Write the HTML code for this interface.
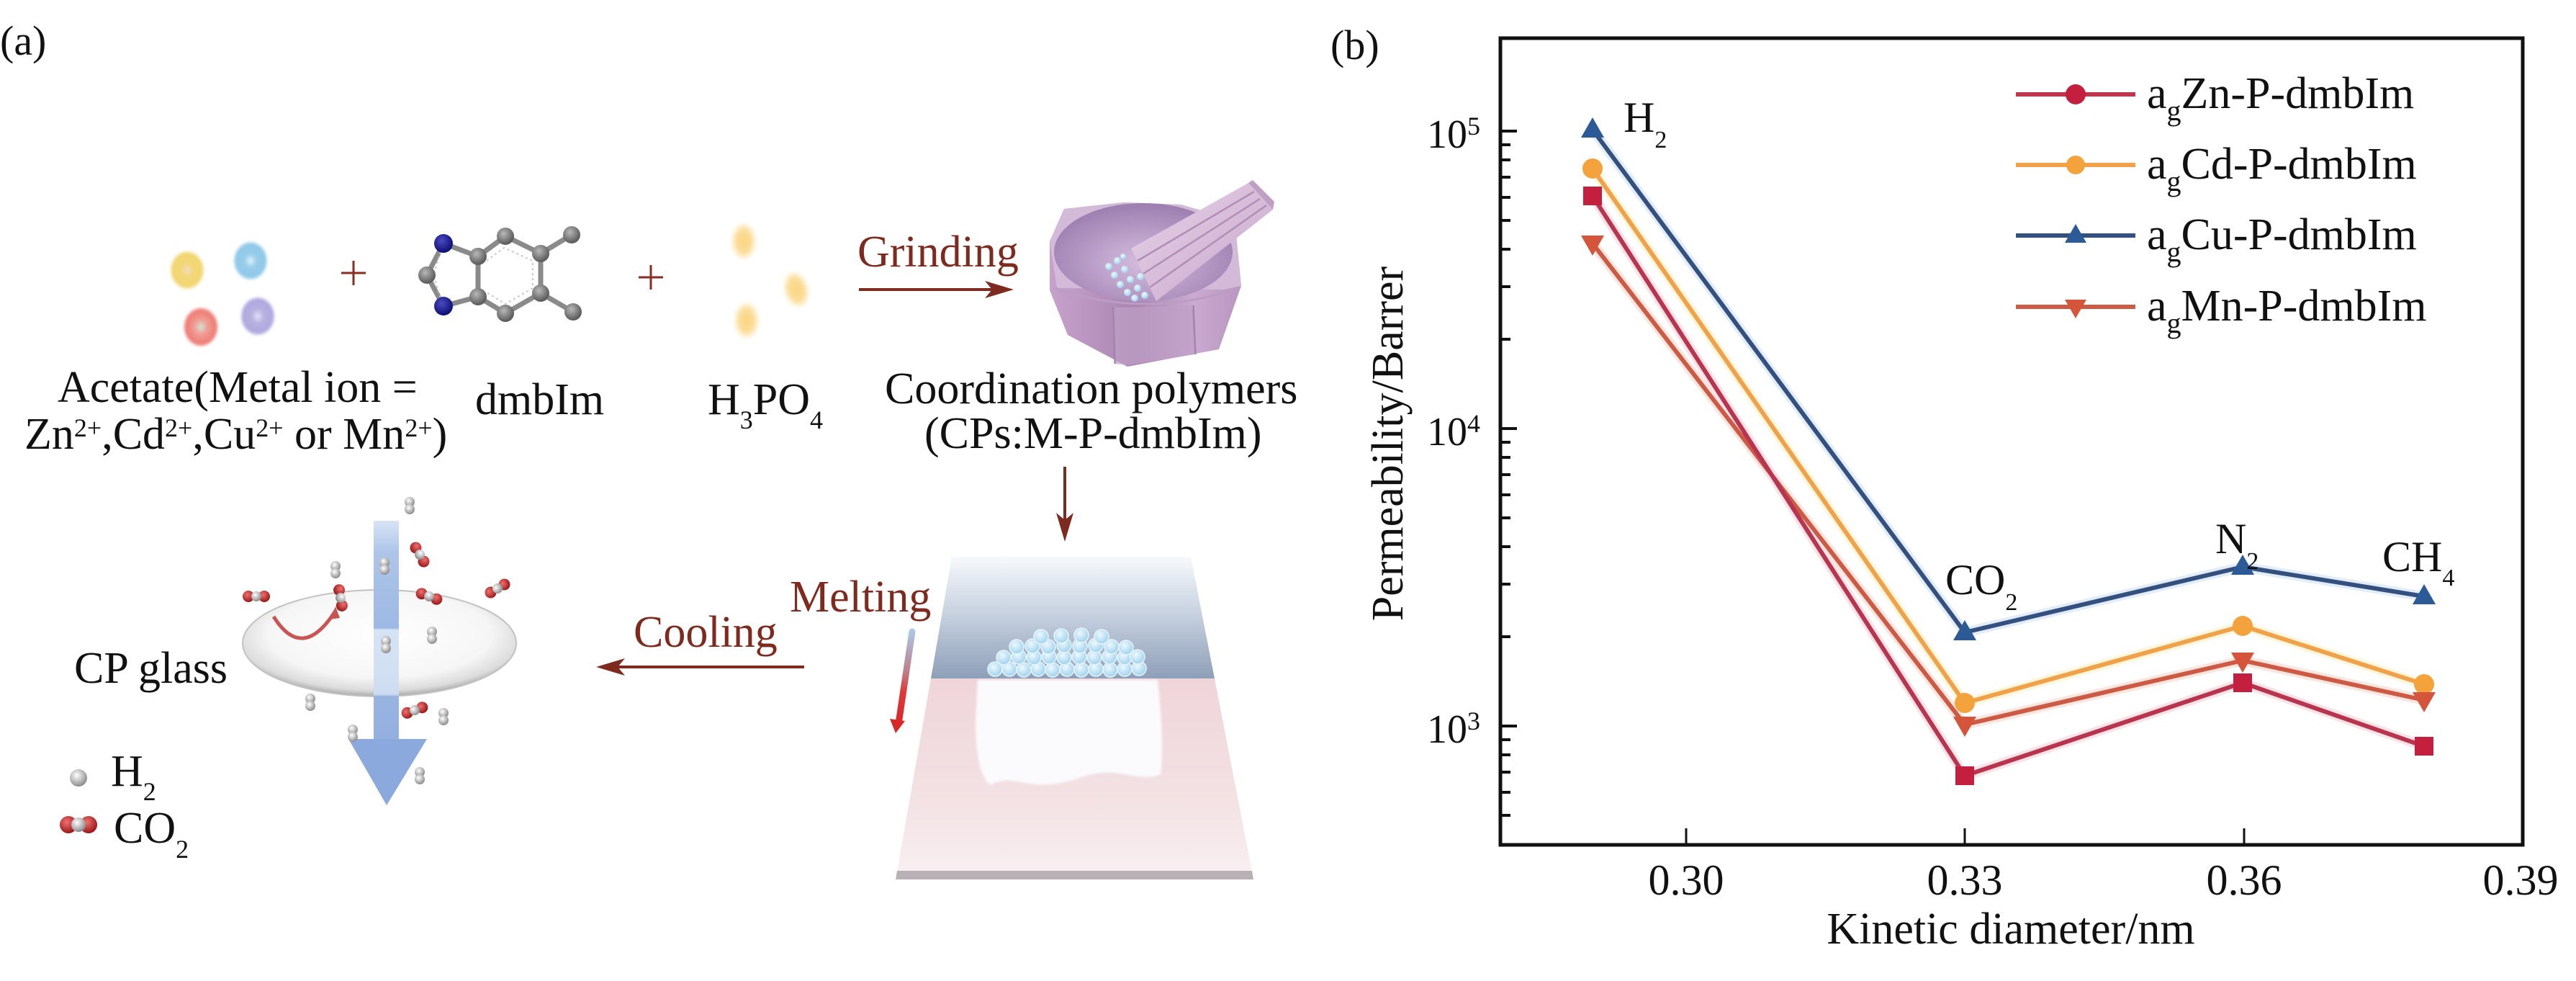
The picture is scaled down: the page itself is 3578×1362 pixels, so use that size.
<!DOCTYPE html>
<html>
<head>
<meta charset="utf-8">
<style>
html,body{margin:0;padding:0;background:#fff;}
svg{display:block;}
text{font-family:"Liberation Serif","Times New Roman",serif;}
</style>
</head>
<body>
<svg width="3578" height="1362" viewBox="0 0 3578 1362" xmlns="http://www.w3.org/2000/svg">
<defs>
  <radialGradient id="gYel" cx="0.5" cy="0.5" r="0.5">
    <stop offset="0" stop-color="#f8d8c8"/><stop offset="0.35" stop-color="#f2d878"/><stop offset="0.85" stop-color="#f2d670"/><stop offset="1" stop-color="#f7e7b0" stop-opacity="0.4"/>
  </radialGradient>
  <radialGradient id="gBlue" cx="0.5" cy="0.5" r="0.5">
    <stop offset="0" stop-color="#e0f2fa"/><stop offset="0.35" stop-color="#98cdea"/><stop offset="0.85" stop-color="#8fc8e8"/><stop offset="1" stop-color="#bde0f2" stop-opacity="0.4"/>
  </radialGradient>
  <radialGradient id="gRed" cx="0.5" cy="0.5" r="0.5">
    <stop offset="0" stop-color="#c8ead8"/><stop offset="0.35" stop-color="#f2a098"/><stop offset="0.85" stop-color="#ee7c74"/><stop offset="1" stop-color="#f07f78" stop-opacity="0.4"/>
  </radialGradient>
  <radialGradient id="gLav" cx="0.5" cy="0.5" r="0.5">
    <stop offset="0" stop-color="#e4e4f6"/><stop offset="0.35" stop-color="#b8b2e2"/><stop offset="0.85" stop-color="#aea8de"/><stop offset="1" stop-color="#c9c2ea" stop-opacity="0.4"/>
  </radialGradient>
  <radialGradient id="gAtom" cx="0.4" cy="0.35" r="0.6">
    <stop offset="0" stop-color="#b8b8b8"/><stop offset="1" stop-color="#5e5e5e"/>
  </radialGradient>
  <radialGradient id="gN" cx="0.4" cy="0.35" r="0.6">
    <stop offset="0" stop-color="#4a4ac0"/><stop offset="1" stop-color="#12127a"/>
  </radialGradient>
  <radialGradient id="gDrop" cx="0.5" cy="0.5" r="0.5">
    <stop offset="0" stop-color="#fcd47e"/><stop offset="0.7" stop-color="#fbdf9e"/><stop offset="1" stop-color="#fff0cc" stop-opacity="0.4"/>
  </radialGradient>
  <radialGradient id="gBowl" cx="0.5" cy="0.6" r="0.6">
    <stop offset="0" stop-color="#d6bddf"/><stop offset="1" stop-color="#9c7eaf"/>
  </radialGradient>
  <linearGradient id="gMortar" x1="0" y1="0" x2="1" y2="0">
    <stop offset="0" stop-color="#c6a2cb"/><stop offset="0.45" stop-color="#a985b1"/><stop offset="0.75" stop-color="#caaad0"/><stop offset="1" stop-color="#b996c0"/>
  </linearGradient>
  <linearGradient id="gPestle" x1="0" y1="0" x2="1" y2="1">
    <stop offset="0" stop-color="#e8d4e8"/><stop offset="1" stop-color="#c7a5cb"/>
  </linearGradient>
  <linearGradient id="gPlateBlue" x1="0" y1="0" x2="0" y2="1">
    <stop offset="0" stop-color="#f7f9fc"/><stop offset="0.45" stop-color="#c9d3e1"/><stop offset="1" stop-color="#8e9fb8"/>
  </linearGradient>
  <linearGradient id="gPlatePink" x1="0" y1="0" x2="0" y2="1">
    <stop offset="0" stop-color="#efd5d9"/><stop offset="0.6" stop-color="#f3e1e4"/><stop offset="1" stop-color="#f8eef0"/>
  </linearGradient>
  <linearGradient id="gTherm" x1="0" y1="0" x2="0" y2="1">
    <stop offset="0" stop-color="#a9c8e6"/><stop offset="0.45" stop-color="#c07a86"/><stop offset="0.65" stop-color="#e03a3a"/><stop offset="1" stop-color="#d82828"/>
  </linearGradient>
  <radialGradient id="gGlass" cx="0.5" cy="0.42" r="0.58">
    <stop offset="0" stop-color="#ffffff"/><stop offset="0.7" stop-color="#f6f6f6"/><stop offset="0.9" stop-color="#dcdcdc"/><stop offset="1" stop-color="#a9a9a9"/>
  </radialGradient>
  <linearGradient id="gShaft" x1="0" y1="700" x2="0" y2="1030" gradientUnits="userSpaceOnUse">
    <stop offset="0" stop-color="#eef3fb"/>
    <stop offset="0.2" stop-color="#aac2e8"/>
    <stop offset="0.52" stop-color="#98b5e2"/>
    <stop offset="0.53" stop-color="#d4e2f5"/>
    <stop offset="0.8" stop-color="#cddcf2"/>
    <stop offset="0.81" stop-color="#93b0df"/>
    <stop offset="1" stop-color="#8eabdd"/>
  </linearGradient>
  <radialGradient id="gH" cx="0.4" cy="0.35" r="0.65">
    <stop offset="0" stop-color="#ffffff"/><stop offset="1" stop-color="#8c8c8c"/>
  </radialGradient>
  <radialGradient id="gO" cx="0.4" cy="0.35" r="0.65">
    <stop offset="0" stop-color="#f07070"/><stop offset="1" stop-color="#9a1818"/>
  </radialGradient>
  <radialGradient id="gP" cx="0.4" cy="0.35" r="0.65">
    <stop offset="0" stop-color="#eef9ff"/><stop offset="1" stop-color="#9fd3ee"/>
  </radialGradient>
  <filter id="soft" x="-30%" y="-30%" width="160%" height="160%"><feGaussianBlur stdDeviation="1.5"/></filter>
  <filter id="soft4" x="-30%" y="-30%" width="160%" height="160%"><feGaussianBlur stdDeviation="3"/></filter>
  <g id="h2m"><ellipse cx="0" cy="-5" rx="7" ry="7" fill="url(#gH)"/><ellipse cx="0" cy="5" rx="7" ry="7" fill="url(#gH)"/></g>
  <g id="co2m"><circle cx="-11" cy="0" r="8" fill="url(#gO)"/><circle cx="11" cy="0" r="8" fill="url(#gO)"/><circle cx="0" cy="0" r="7" fill="url(#gH)"/></g>
</defs>

<!-- ============ PANEL (a) ============ -->
<text x="0" y="76" font-size="58" fill="#111">(a)</text>

<!-- metal ions -->
<g filter="url(#soft)">
  <ellipse cx="260" cy="375" rx="24" ry="27" fill="url(#gYel)"/>
  <ellipse cx="348" cy="362" rx="24" ry="27" fill="url(#gBlue)"/>
  <ellipse cx="279" cy="454" rx="24" ry="27" fill="url(#gRed)"/>
  <ellipse cx="358" cy="439" rx="24" ry="27" fill="url(#gLav)"/>
</g>

<!-- plus signs -->
<g stroke="#8a2c20" stroke-width="3">
  <line x1="474" y1="379" x2="508" y2="379"/><line x1="491" y1="362" x2="491" y2="396"/>
  <line x1="887" y1="385" x2="921" y2="385"/><line x1="904" y1="368" x2="904" y2="402"/>
</g>

<!-- dmbIm molecule -->
<g stroke="#8a8a8a" stroke-width="7" stroke-linecap="round">
  <line x1="616" y1="338" x2="593" y2="382"/>
  <line x1="593" y1="382" x2="616" y2="425"/>
  <line x1="616" y1="425" x2="664" y2="412"/>
  <line x1="616" y1="338" x2="664" y2="356"/>
  <line x1="664" y1="356" x2="664" y2="412"/>
  <line x1="664" y1="356" x2="702" y2="328"/>
  <line x1="702" y1="328" x2="751" y2="352"/>
  <line x1="751" y1="352" x2="751" y2="407"/>
  <line x1="751" y1="407" x2="702" y2="435"/>
  <line x1="702" y1="435" x2="664" y2="412"/>
  <line x1="751" y1="352" x2="794" y2="326"/>
  <line x1="751" y1="407" x2="796" y2="433"/>
</g>
<g stroke="#c8c8c8" stroke-width="2" stroke-dasharray="3 4" fill="none">
  <polyline points="612,350 602,382 612,414"/>
  <polyline points="676,362 700,344 740,362 740,400 702,422 676,406"/>
</g>
<circle cx="616" cy="338" r="13" fill="url(#gN)"/>
<circle cx="616" cy="425" r="13" fill="url(#gN)"/>
<circle cx="593" cy="382" r="12" fill="url(#gAtom)"/>
<circle cx="664" cy="356" r="12" fill="url(#gAtom)"/>
<circle cx="664" cy="412" r="12" fill="url(#gAtom)"/>
<circle cx="702" cy="328" r="12" fill="url(#gAtom)"/>
<circle cx="751" cy="352" r="12" fill="url(#gAtom)"/>
<circle cx="751" cy="407" r="12" fill="url(#gAtom)"/>
<circle cx="702" cy="435" r="12" fill="url(#gAtom)"/>
<circle cx="794" cy="326" r="12" fill="url(#gAtom)"/>
<circle cx="796" cy="433" r="12" fill="url(#gAtom)"/>

<!-- H3PO4 drops -->
<g filter="url(#soft4)">
  <ellipse cx="1033" cy="335" rx="17" ry="25" fill="url(#gDrop)"/>
  <ellipse cx="1106" cy="402" rx="17" ry="25" fill="url(#gDrop)" transform="rotate(-15 1106 402)"/>
  <ellipse cx="1037" cy="445" rx="17" ry="25" fill="url(#gDrop)"/>
</g>

<!-- labels top row -->
<text x="80" y="558" font-size="62" fill="#111">Acetate(Metal ion =</text>
<text x="34" y="623" font-size="62" fill="#111">Zn<tspan dy="-17" font-size="36">2+</tspan><tspan dy="17">,Cd</tspan><tspan dy="-17" font-size="36">2+</tspan><tspan dy="17">,Cu</tspan><tspan dy="-17" font-size="36">2+</tspan><tspan dy="17"> or Mn</tspan><tspan dy="-17" font-size="36">2+</tspan><tspan dy="17">)</tspan></text>
<text x="660" y="575" font-size="62" fill="#111">dmbIm</text>
<text x="983" y="575" font-size="62" fill="#111">H<tspan dy="20" font-size="36">3</tspan><tspan dy="-20">PO</tspan><tspan dy="20" font-size="36">4</tspan></text>

<!-- Grinding -->
<text x="1191" y="370" font-size="62" fill="#7e2a1e">Grinding</text>
<line x1="1193" y1="402" x2="1395" y2="402" stroke="#7e2a1e" stroke-width="4"/>
<polygon points="1408,402 1368,390 1378,402 1368,414" fill="#7e2a1e"/>

<!-- Mortar and pestle -->
<polygon points="1458,335 1478,290 1561,281 1640,284 1715,305 1724,397 1693,485 1566,509 1483,465 1458,403" fill="url(#gMortar)"/>
<polygon points="1458,335 1478,290 1561,281 1640,284 1715,305 1724,397 1700,402 1468,400" fill="#d3bad9"/>
<ellipse cx="1588" cy="350" rx="124" ry="68" fill="url(#gBowl)"/>
<path d="M1466,400 Q1590,444 1722,400" fill="none" stroke="#bb9cc2" stroke-width="3"/>
<line x1="1547" y1="427" x2="1549" y2="505" stroke="#9e7ca6" stroke-width="3"/>
<line x1="1657" y1="424" x2="1660" y2="492" stroke="#9e7ca6" stroke-width="3"/>
<polygon points="1547,427 1657,424 1660,492 1566,507 1549,505" fill="#bf9fc6" opacity="0.7"/>
<g>
  <circle cx="1540" cy="370" r="5" fill="url(#gP)"/><circle cx="1552" cy="362" r="5" fill="url(#gP)"/>
  <circle cx="1548" cy="382" r="5" fill="url(#gP)"/><circle cx="1562" cy="374" r="5" fill="url(#gP)"/>
  <circle cx="1556" cy="395" r="5" fill="url(#gP)"/><circle cx="1570" cy="388" r="5" fill="url(#gP)"/>
  <circle cx="1566" cy="406" r="5" fill="url(#gP)"/><circle cx="1580" cy="400" r="5" fill="url(#gP)"/>
  <circle cx="1576" cy="414" r="5" fill="url(#gP)"/><circle cx="1590" cy="410" r="5" fill="url(#gP)"/>
  <circle cx="1560" cy="356" r="4" fill="url(#gP)"/><circle cx="1584" cy="384" r="5" fill="url(#gP)"/>
</g>
<polygon points="1571,345 1734,254 1768,291 1606,418" fill="url(#gPestle)"/>
<g stroke="#b08eb5" stroke-width="2.5">
  <line x1="1580" y1="362" x2="1742" y2="266"/>
  <line x1="1588" y1="380" x2="1750" y2="276"/>
  <line x1="1597" y1="399" x2="1759" y2="285"/>
</g>
<polygon points="1734,254 1768,291 1770,280 1740,250" fill="#bfa0c4"/>

<!-- Coordination polymers text -->
<text x="1229" y="560" font-size="62" fill="#111">Coordination polymers</text>
<text x="1284" y="622" font-size="62" fill="#111">(CPs:M-P-dmbIm)</text>

<!-- down arrow -->
<line x1="1479" y1="648" x2="1479" y2="740" stroke="#7e2a1e" stroke-width="4"/>
<polygon points="1479,752 1467,712 1479,722 1491,712" fill="#7e2a1e"/>

<!-- Melting plate -->
<polygon points="1322,773 1654,773 1687,942 1293,942" fill="url(#gPlateBlue)"/>
<polygon points="1293,942 1687,942 1739,1210 1246,1210" fill="url(#gPlatePink)"/>
<polygon points="1246,1209 1739,1209 1741,1221 1244,1221" fill="#b7b0b5"/>
<path d="M1358,944 L1608,944 C1614,1000 1616,1050 1612,1075 C1590,1086 1560,1070 1530,1073 C1500,1076 1480,1092 1440,1089 C1410,1086 1395,1078 1376,1090 C1362,1080 1355,1050 1355,1000 Z" fill="#fbfafd" filter="url(#soft)"/>
<g fill="url(#gP)" stroke="#e6f5fc" stroke-width="1.5">
  <circle cx="1382" cy="929" r="10"/><circle cx="1402" cy="929" r="10"/><circle cx="1422" cy="930" r="10"/><circle cx="1442" cy="929" r="10"/><circle cx="1462" cy="930" r="10"/><circle cx="1482" cy="929" r="10"/><circle cx="1502" cy="930" r="10"/><circle cx="1522" cy="929" r="10"/><circle cx="1542" cy="930" r="10"/><circle cx="1562" cy="929" r="10"/><circle cx="1582" cy="928" r="10"/>
  <circle cx="1394" cy="913" r="10"/><circle cx="1415" cy="912" r="10"/><circle cx="1436" cy="913" r="10"/><circle cx="1457" cy="912" r="10"/><circle cx="1478" cy="913" r="10"/><circle cx="1499" cy="912" r="10"/><circle cx="1520" cy="913" r="10"/><circle cx="1541" cy="912" r="10"/><circle cx="1562" cy="913" r="10"/><circle cx="1580" cy="912" r="10"/>
  <circle cx="1412" cy="898" r="10"/><circle cx="1434" cy="897" r="10"/><circle cx="1456" cy="898" r="10"/><circle cx="1478" cy="896" r="10"/><circle cx="1500" cy="897" r="10"/><circle cx="1522" cy="896" r="10"/><circle cx="1544" cy="898" r="10"/><circle cx="1564" cy="899" r="10"/>
  <circle cx="1446" cy="884" r="10"/><circle cx="1474" cy="883" r="10"/><circle cx="1502" cy="882" r="10"/><circle cx="1530" cy="884" r="10"/>
</g>
<!-- thermometer arrow -->
<line x1="1267" y1="877" x2="1248" y2="1005" stroke="url(#gTherm)" stroke-width="9" stroke-linecap="round"/>
<polygon points="1244,1018 1236,998 1257,1001" fill="#d82828"/>

<text x="1097" y="849" font-size="62" fill="#7e2a1e">Melting</text>
<text x="880" y="898" font-size="62" fill="#7e2a1e">Cooling</text>
<line x1="1117" y1="926" x2="842" y2="926" stroke="#7e2a1e" stroke-width="4"/>
<polygon points="828,926 868,914 858,926 868,938" fill="#7e2a1e"/>

<!-- CP glass -->
<ellipse cx="527" cy="893" rx="190" ry="74" fill="url(#gGlass)" stroke="#c2c2c2" stroke-width="2"/>
<path d="M380,856 Q420,920 466,848" fill="none" stroke="#c85454" stroke-width="5"/>
<polygon points="466,842 458,860 472,858" fill="#c85454"/>
<rect x="519" y="723" width="35" height="304" fill="url(#gShaft)" opacity="0.95"/>
<polygon points="484,1026 593,1026 537,1118" fill="#8ca9dd"/>

<!-- scattered molecules -->
<use href="#h2m" x="569" y="702"/>
<use href="#h2m" x="466" y="791"/>
<use href="#h2m" x="534" y="786"/>
<use href="#h2m" x="600" y="882"/>
<use href="#h2m" x="536" y="895"/>
<use href="#h2m" x="431" y="975"/>
<use href="#h2m" x="616" y="995"/>
<use href="#h2m" x="490" y="1018"/>
<use href="#h2m" x="583" y="1077"/>
<g transform="translate(583,770) rotate(60)"><use href="#co2m"/></g>
<g transform="translate(356,828)"><use href="#co2m"/></g>
<g transform="translate(473,830) rotate(80)"><use href="#co2m"/></g>
<g transform="translate(596,828) rotate(20)"><use href="#co2m"/></g>
<g transform="translate(691,817) rotate(-30)"><use href="#co2m"/></g>
<g transform="translate(576,986) rotate(-20)"><use href="#co2m"/></g>

<text x="103" y="948" font-size="62" fill="#111">CP glass</text>

<!-- legend a -->
<circle cx="109" cy="1080" r="12" fill="url(#gH)"/>
<text x="154" y="1091" font-size="62" fill="#111">H<tspan dy="20" font-size="36">2</tspan></text>
<circle cx="95" cy="1145" r="12" fill="url(#gO)"/>
<circle cx="123" cy="1145" r="12" fill="url(#gO)"/>
<circle cx="109" cy="1145" r="10" fill="url(#gH)"/>
<text x="158" y="1170" font-size="62" fill="#111">CO<tspan dy="21" font-size="36">2</tspan></text>

<!-- ============ PANEL (b) ============ -->
<text x="1848" y="82" font-size="58" fill="#111">(b)</text>

<!-- axes frame -->
<rect x="2084" y="53" width="1420" height="1120" fill="none" stroke="#111" stroke-width="5"/>

<!-- y ticks -->
<g stroke="#111" stroke-width="4">
  <line x1="2084" y1="182" x2="2107" y2="182"/>
  <line x1="2084" y1="595" x2="2107" y2="595"/>
  <line x1="2084" y1="1008" x2="2107" y2="1008"/>
  <line x1="2084" y1="201" x2="2098" y2="201"/>
  <line x1="2084" y1="222" x2="2098" y2="222"/>
  <line x1="2084" y1="246" x2="2098" y2="246"/>
  <line x1="2084" y1="274" x2="2098" y2="274"/>
  <line x1="2084" y1="306" x2="2098" y2="306"/>
  <line x1="2084" y1="346" x2="2098" y2="346"/>
  <line x1="2084" y1="398" x2="2098" y2="398"/>
  <line x1="2084" y1="471" x2="2098" y2="471"/>
  <line x1="2084" y1="614" x2="2098" y2="614"/>
  <line x1="2084" y1="635" x2="2098" y2="635"/>
  <line x1="2084" y1="659" x2="2098" y2="659"/>
  <line x1="2084" y1="687" x2="2098" y2="687"/>
  <line x1="2084" y1="719" x2="2098" y2="719"/>
  <line x1="2084" y1="759" x2="2098" y2="759"/>
  <line x1="2084" y1="811" x2="2098" y2="811"/>
  <line x1="2084" y1="884" x2="2098" y2="884"/>
  <line x1="2084" y1="1027" x2="2098" y2="1027"/>
  <line x1="2084" y1="1048" x2="2098" y2="1048"/>
  <line x1="2084" y1="1072" x2="2098" y2="1072"/>
  <line x1="2084" y1="1100" x2="2098" y2="1100"/>
  <line x1="2084" y1="1132" x2="2098" y2="1132"/>
</g>
<!-- x ticks -->
<g stroke="#111" stroke-width="3">
  <line x1="2342" y1="1173" x2="2342" y2="1150"/>
  <line x1="2729" y1="1173" x2="2729" y2="1150"/>
  <line x1="3117" y1="1173" x2="3117" y2="1150"/>
</g>

<!-- tick labels -->
<g font-size="56" fill="#111">
  <text x="1982" y="205">10<tspan dy="-18" font-size="36">5</tspan></text>
  <text x="1982" y="618">10<tspan dy="-18" font-size="36">4</tspan></text>
  <text x="1982" y="1031">10<tspan dy="-18" font-size="36">3</tspan></text>
</g>
<g font-size="60" fill="#111" text-anchor="middle">
  <text x="2342" y="1242">0.30</text>
  <text x="2729" y="1242">0.33</text>
  <text x="3117" y="1242">0.36</text>
  <text x="3501" y="1242">0.39</text>
</g>
<text x="2793" y="1310" font-size="62" fill="#111" text-anchor="middle">Kinetic diameter/nm</text>
<text transform="translate(1948,616) rotate(-90)" font-size="62" fill="#111" text-anchor="middle">Permeability/Barrer</text>

<!-- series halos -->
<g fill="none" stroke-width="14" stroke-linejoin="round" opacity="0.22">
  <polyline points="2212,234 2729,976 3115,869 3367,950" stroke="#ffd860"/>
  <polyline points="2212,338 2729,1006 3115,917 3367,972" stroke="#f09070"/>
  <polyline points="2212,272 2729,1077 3115,948 3367,1036" stroke="#f08090"/>
  <polyline points="2212,180 2729,878 3115,787 3367,828" stroke="#80b0e8"/>
</g>
<!-- series lines -->
<g fill="none" stroke-width="6" stroke-linejoin="round">
  <polyline points="2212,234 2729,976 3115,869 3367,950" stroke="#f0a24a"/>
  <polyline points="2212,338 2729,1006 3115,917 3367,972" stroke="#cc5a44"/>
  <polyline points="2212,272 2729,1077 3115,948 3367,1036" stroke="#b83550"/>
  <polyline points="2212,180 2729,878 3115,787 3367,828" stroke="#34507e"/>
</g>
<!-- markers: Cd circles -->
<g fill="#f4a23c">
  <circle cx="2212" cy="234" r="14"/><circle cx="2729" cy="976" r="14"/><circle cx="3115" cy="869" r="14"/><circle cx="3367" cy="950" r="14"/>
</g>
<!-- Mn down triangles -->
<g fill="#d4553a">
  <polygon points="2196,327 2228,327 2212,355"/>
  <polygon points="2713,995 2745,995 2729,1023"/>
  <polygon points="3099,906 3131,906 3115,934"/>
  <polygon points="3351,961 3383,961 3367,989"/>
</g>
<!-- Zn squares -->
<g fill="#c41f3e">
  <rect x="2199" y="259" width="26" height="26"/>
  <rect x="2716" y="1064" width="26" height="26"/>
  <rect x="3102" y="935" width="26" height="26"/>
  <rect x="3354" y="1023" width="26" height="26"/>
</g>
<!-- Cu up triangles -->
<g fill="#2b5a96">
  <polygon points="2212,163 2196,191 2228,191"/>
  <polygon points="2729,861 2713,889 2745,889"/>
  <polygon points="3115,770 3099,798 3131,798"/>
  <polygon points="3367,811 3351,839 3383,839"/>
</g>

<!-- gas labels -->
<g font-size="60" fill="#111">
  <text x="2255" y="183">H<tspan dy="22" font-size="34">2</tspan></text>
  <text x="2702" y="825">CO<tspan dy="22" font-size="34">2</tspan></text>
  <text x="3077" y="768">N<tspan dy="22" font-size="34">2</tspan></text>
  <text x="3309" y="793">CH<tspan dy="20" font-size="34">4</tspan></text>
</g>

<!-- legend b -->
<g stroke-width="6">
  <line x1="2800" y1="131" x2="2966" y2="131" stroke="#c0354e"/>
  <line x1="2800" y1="229" x2="2966" y2="229" stroke="#f0a24a"/>
  <line x1="2800" y1="327" x2="2966" y2="327" stroke="#34507e"/>
  <line x1="2800" y1="426" x2="2966" y2="426" stroke="#cc5a44"/>
</g>
<circle cx="2883" cy="131" r="14" fill="#c41f3e"/>
<circle cx="2883" cy="229" r="13" fill="#f4a23c"/>
<polygon points="2883,311 2868,337 2898,337" fill="#2b5a96"/>
<polygon points="2868,416 2898,416 2883,442" fill="#d4553a"/>
<g font-size="62" fill="#111">
  <text x="2982" y="150">a<tspan dy="17" font-size="40">g</tspan><tspan dy="-17">Zn-P-dmbIm</tspan></text>
  <text x="2982" y="248">a<tspan dy="17" font-size="40">g</tspan><tspan dy="-17">Cd-P-dmbIm</tspan></text>
  <text x="2982" y="346">a<tspan dy="17" font-size="40">g</tspan><tspan dy="-17">Cu-P-dmbIm</tspan></text>
  <text x="2982" y="445">a<tspan dy="17" font-size="40">g</tspan><tspan dy="-17">Mn-P-dmbIm</tspan></text>
</g>
</svg>
</body>
</html>
